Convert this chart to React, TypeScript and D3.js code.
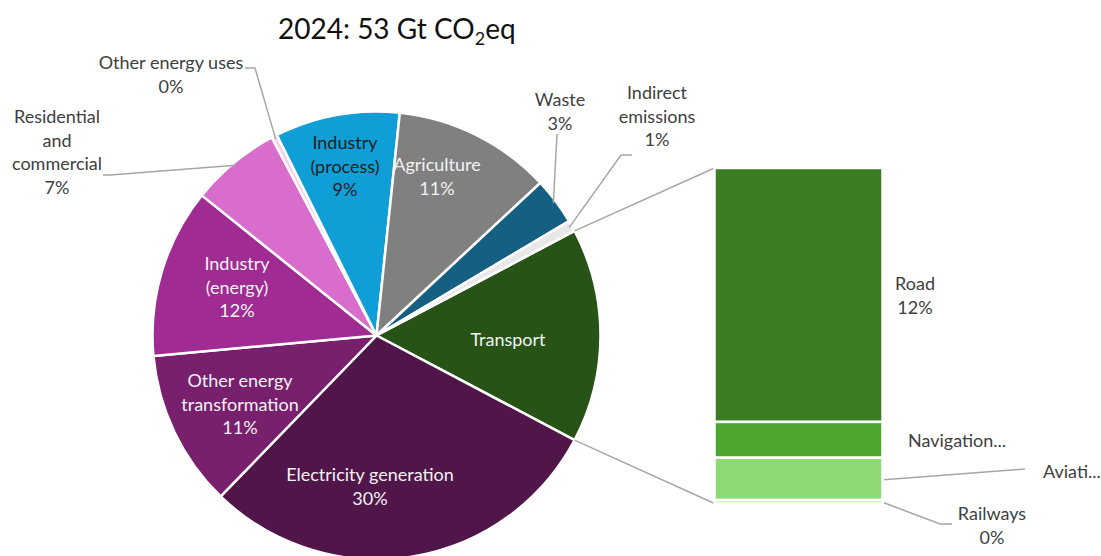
import React from "react";
import * as d3 from "d3";

const W = 1101;
const H = 556;

// Main pie: sector shares of 2024 emissions (percent of 53 Gt CO2eq)
const sectors = [
  "Electricity generation",
  "Other energy transformation",
  "Industry (energy)",
  "Residential and commercial",
  "Other energy uses",
  "Industry (process)",
  "Agriculture",
  "Waste",
  "Indirect emissions",
];
const sectorShares = [29.5, 11.3, 12.2, 6.5, 0.4, 9.0, 11.4, 3.4, 0.8];
const sectorColors = [
  "#501549",
  "#78206E",
  "#A02B93",
  "#D86DCB",
  "#F2CEEF",
  "#0F9ED5",
  "#808080",
  "#156082",
  "#E8E8E8",
];

// Transport breakdown, shown in the side bar
const transportLabel = "Transport";
const transportModes = ["Road", "Navigation", "Aviation", "Railways"];
const transportShares = [11.7, 1.65, 1.95, 0.16];
const transportColors = ["#3B7D23", "#4EA72E", "#8ED973", "#B9E8A8"];
const transportSliceColor = "#275317";

const LIGHT = "#F2F2F2";
const DARK = "#404040";
const LINE = "#A6A6A6";
const FONT = "Lato, 'Open Sans', sans-serif";
const LINE_GAP = 23.5;

type Pt = [number, number];
type LabelSpec = {
  lines: string[];
  x: number;
  y: number;
  fill: string;
  anchor?: "start" | "middle";
  pct?: boolean;
  leader?: Pt[];
};

const sectorLabels: Record<string, LabelSpec> = {
  "Electricity generation": { lines: ["Electricity generation"], x: 370, y: 475, fill: LIGHT, pct: true },
  "Other energy transformation": { lines: ["Other energy", "transformation"], x: 240, y: 381, fill: LIGHT, pct: true },
  "Industry (energy)": { lines: ["Industry", "(energy)"], x: 237, y: 264, fill: LIGHT, pct: true },
  "Residential and commercial": {
    lines: ["Residential", "and", "commercial"], x: 57, y: 117, fill: DARK, pct: true,
    leader: [[103, 175], [110, 175]],
  },
  "Other energy uses": {
    lines: ["Other energy uses"], x: 171, y: 63, fill: DARK, pct: true,
    leader: [[245, 68], [255, 68]],
  },
  "Industry (process)": { lines: ["Industry", "(process)"], x: 345, y: 143, fill: "#1F1F1F", pct: true },
  Agriculture: { lines: ["Agriculture"], x: 437, y: 165, fill: LIGHT, pct: true },
  Waste: { lines: ["Waste"], x: 560, y: 100, fill: DARK, pct: true, leader: [[557, 134]] },
  "Indirect emissions": {
    lines: ["Indirect", "emissions"], x: 657, y: 93, fill: DARK, pct: true,
    leader: [[632, 155], [621, 155]],
  },
};

const modeLabels: Record<string, LabelSpec> = {
  Road: { lines: ["Road"], x: 915, y: 284, fill: DARK, pct: true },
  Navigation: { lines: ["Navigation..."], x: 908, y: 441, fill: DARK, anchor: "start" },
  Aviation: { lines: ["Aviati..."], x: 1043, y: 472, fill: DARK, anchor: "start", leader: [[1025, 469]] },
  Railways: { lines: ["Railways"], x: 992, y: 514, fill: DARK, pct: true, leader: [[952, 524], [940, 524]] },
};

const cx = 376.5;
const cy = 335.5;
const R = 224;
const bar = { x0: 714.5, x1: 882.5, y0: 168, y1: 503.5 };

function Label({ spec, pct }: { spec: LabelSpec; pct: string }) {
  const lines = spec.pct ? [...spec.lines, pct] : spec.lines;
  return (
    <text
      x={spec.x}
      y={spec.y}
      fill={spec.fill}
      fontFamily={FONT}
      fontSize={18}
      textAnchor={spec.anchor ?? "middle"}
    >
      {lines.map((l, i) => (
        <tspan key={i} x={spec.x} y={spec.y + i * LINE_GAP} dy="0.35em">
          {l}
        </tspan>
      ))}
    </text>
  );
}

export default function App() {
  const transportTotal = d3.sum(transportShares);
  const total = d3.sum(sectorShares) + transportTotal;
  const fmt = (v: number) => `${Math.round((v / total) * 100)}%`;

  // Transport first, centred on 3 o'clock; the rest follow clockwise
  const values = [transportTotal, ...sectorShares];
  const names = [transportLabel, ...sectors];
  const colors = [transportSliceColor, ...sectorColors];
  const tAngle = (transportTotal / total) * 2 * Math.PI;
  const start = Math.PI / 2 - tAngle / 2;
  const pie = d3
    .pie<number>()
    .sort(null)
    .value((d) => d)
    .startAngle(start)
    .endAngle(start + 2 * Math.PI);
  const arcs = pie(values);
  const arc = d3.arc<d3.PieArcDatum<number>>().innerRadius(0).outerRadius(R);

  const polar = (a: number, r: number): Pt => [cx + r * Math.sin(a), cy - r * Math.cos(a)];

  // Stacked bar for the transport split, Road at top
  const y = d3.scaleLinear().domain([0, transportTotal]).range([bar.y0, bar.y1]);
  const cum = d3.cumsum(transportShares);
  const segs = transportShares.map((v, i) => ({
    name: transportModes[i],
    v,
    top: y(cum[i] - v),
    bottom: y(cum[i]),
    color: transportColors[i],
  }));

  const tArc = arcs[0];
  const connTop = polar(tArc.startAngle, R);
  const connBottom = polar(tArc.endAngle, R);
  const line = d3.line();

  return (
    <svg width={W} height={H} style={{ position: "absolute", left: 0, top: 0, background: "#fff" }}>
      <text x={278} y={39} fontFamily={FONT} fontSize={28} fill="#111">
        2024: 53 Gt CO
        <tspan fontSize={18} dy={6}>2</tspan>
        <tspan dy={-6}>eq</tspan>
      </text>

      <g transform={`translate(${cx},${cy})`}>
        {arcs.map((a, i) => (
          <path key={names[i]} d={arc(a) ?? ""} fill={colors[i]} stroke="#fff" strokeWidth={2.5} strokeLinejoin="round" />
        ))}
      </g>

      {/* connectors from the transport slice to the bar */}
      <path d={line([connTop, [bar.x0, bar.y0]]) ?? ""} stroke={LINE} strokeWidth={1.5} fill="none" />
      <path d={line([connBottom, [bar.x0, bar.y1]]) ?? ""} stroke={LINE} strokeWidth={1.5} fill="none" />

      {segs.map((s) => (
        <rect
          key={s.name}
          x={bar.x0}
          y={s.top}
          width={bar.x1 - bar.x0}
          height={Math.max(0, s.bottom - s.top)}
          fill={s.color}
          stroke="#fff"
          strokeWidth={2.5}
        />
      ))}

      {/* pie leader lines */}
      {arcs.slice(1).map((a, i) => {
        const spec = sectorLabels[sectors[i]];
        if (!spec.leader) return null;
        const mid = (a.startAngle + a.endAngle) / 2;
        const pts: Pt[] = [...spec.leader, polar(mid, R - 3)];
        return <path key={sectors[i]} d={line(pts) ?? ""} stroke={LINE} strokeWidth={1.5} fill="none" />;
      })}

      {/* bar leader lines */}
      {segs.map((s) => {
        const spec = modeLabels[s.name];
        if (!spec.leader) return null;
        const pts: Pt[] = [...spec.leader, [bar.x1 + 1.5, (s.top + s.bottom) / 2 + 1]];
        return <path key={s.name} d={line(pts) ?? ""} stroke={LINE} strokeWidth={1.5} fill="none" />;
      })}

      {arcs.slice(1).map((a, i) => (
        <Label key={sectors[i]} spec={sectorLabels[sectors[i]]} pct={fmt(sectorShares[i])} />
      ))}
      <Label spec={{ lines: [transportLabel], x: 508, y: 340, fill: LIGHT }} pct="" />
      {segs.map((s) => (
        <Label key={s.name} spec={modeLabels[s.name]} pct={fmt(s.v)} />
      ))}
    </svg>
  );
}
